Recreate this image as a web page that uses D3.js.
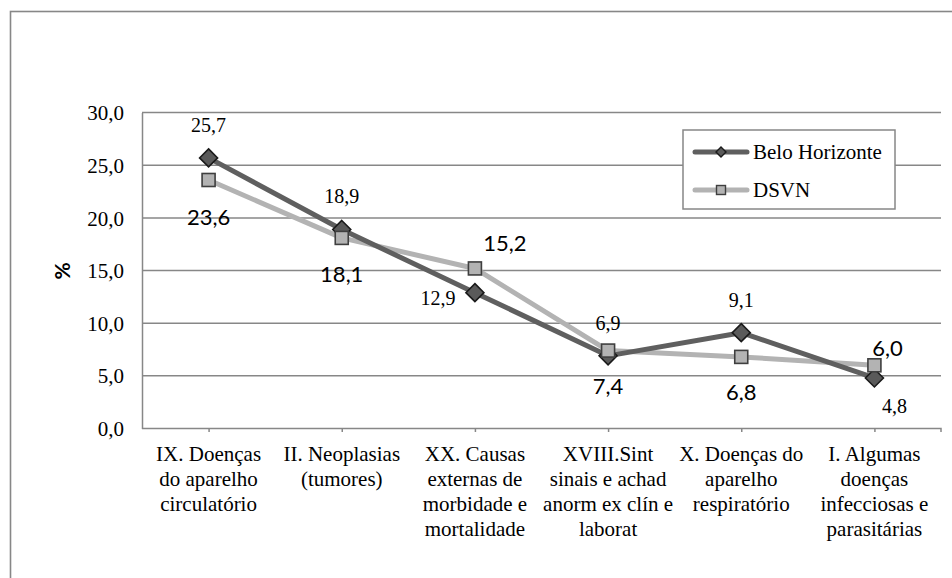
<!DOCTYPE html>
<html>
<head>
<meta charset="utf-8">
<script src="https://cdn.jsdelivr.net/npm/d3@7"></script>
<style>
  html, body { margin: 0; padding: 0; background: #fff; }
  svg { display: block; }
</style>
</head>
<body>
<svg id="chart" width="952" height="578"></svg>
<script>
// Causes of death by ICD chapter (%), Belo Horizonte vs DSVN
const categories = [
  ["IX. Doenças", "do aparelho", "circulatório"],
  ["II. Neoplasias", "(tumores)"],
  ["XX. Causas", "externas de", "morbidade e", "mortalidade"],
  ["XVIII.Sint", "sinais e achad", "anorm ex clín e", "laborat"],
  ["X. Doenças do", "aparelho", "respiratório"],
  ["I. Algumas", "doenças", "infecciosas e", "parasitárias"]
];
const belo = [25.7, 18.9, 12.9, 6.9, 9.1, 4.8];
const dsvn = [23.6, 18.1, 15.2, 7.4, 6.8, 6.0];
const yTicks = [0, 5, 10, 15, 20, 25, 30];
const seriesNames = ["Belo Horizonte", "DSVN"];

const serif = "'Liberation Serif', 'Times New Roman', serif";
const sans = "Lato, 'Open Sans', sans-serif";
const gridColor = "#878787";

const locale = d3.formatLocale({ decimal: ",", thousands: ".", grouping: [3], currency: ["", ""] });
const fmt = locale.format(".1f");

const svg = d3.select("#chart");

// outer chart frame
svg.append("rect")
  .attr("x", 10.5).attr("y", 11.5)
  .attr("width", 960).attr("height", 600)
  .attr("fill", "none").attr("stroke", gridColor).attr("stroke-width", 1.6);

const x = d3.scalePoint()
  .domain(d3.range(categories.length))
  .range([142, 941])
  .padding(0.5);

const y = d3.scaleLinear().domain([0, 30]).range([428.5, 112.6]);

// horizontal gridlines
svg.append("g").selectAll("line")
  .data(yTicks.filter(d => d > 0))
  .join("line")
  .attr("x1", 142).attr("x2", 941)
  .attr("y1", d => y(d)).attr("y2", d => y(d))
  .attr("stroke", gridColor).attr("stroke-width", 1.5);

// y axis
const yAxis = svg.append("g")
  .attr("transform", "translate(142,0)")
  .call(d3.axisLeft(y).tickValues(yTicks).tickFormat(fmt).tickSize(0).tickPadding(18));
yAxis.select(".domain").attr("stroke", gridColor).attr("stroke-width", 1.5);
yAxis.selectAll("text")
  .attr("font-family", serif).attr("font-size", 21).attr("fill", "#000")
  .attr("dy", "0.34em");

// x axis
const xAxis = svg.append("g")
  .attr("transform", `translate(0,${y(0)})`)
  .call(d3.axisBottom(x).tickSize(3.5).tickFormat(""));
xAxis.select(".domain").attr("stroke", gridColor).attr("stroke-width", 1.5)
  .attr("d", `M142,0V0H941V3.5`);
xAxis.selectAll(".tick line").attr("stroke", gridColor).attr("stroke-width", 1.5);

// category labels (multi-line)
const catG = svg.append("g");
categories.forEach((lines, i) => {
  const t = catG.append("text")
    .attr("x", x(i)).attr("y", 460.5)
    .attr("text-anchor", "middle")
    .attr("font-family", serif).attr("font-size", 21).attr("fill", "#000");
  lines.forEach((ln, j) => {
    t.append("tspan").attr("x", x(i)).attr("dy", j === 0 ? 0 : 25).text(ln);
  });
});

// y axis title
svg.append("text")
  .attr("transform", "translate(70,271) rotate(-90)")
  .attr("text-anchor", "middle")
  .attr("font-family", sans).attr("font-weight", "bold").attr("font-size", 21)
  .text("%");

const line = d3.line().x((d, i) => x(i)).y(d => y(d));

// DSVN line
svg.append("path").datum(dsvn)
  .attr("d", line).attr("fill", "none")
  .attr("stroke", "#b3b3b3").attr("stroke-width", 5).attr("stroke-linejoin", "round");

// Belo Horizonte line
svg.append("path").datum(belo)
  .attr("d", line).attr("fill", "none")
  .attr("stroke", "#5f5f5f").attr("stroke-width", 5).attr("stroke-linejoin", "round");

// Belo Horizonte markers (diamonds)
const diamond = r => `M0,${-r}L${r},0L0,${r}L${-r},0Z`;
svg.append("g").selectAll("path")
  .data(belo).join("path")
  .attr("transform", (d, i) => `translate(${x(i)},${y(d)})`)
  .attr("d", diamond(9))
  .attr("fill", "#5a5a5a").attr("stroke", "#1a1a1a").attr("stroke-width", 1.6);

// DSVN markers (squares)
svg.append("g").selectAll("rect")
  .data(dsvn).join("rect")
  .attr("x", (d, i) => x(i) - 6.5).attr("y", d => y(d) - 6.5)
  .attr("width", 13).attr("height", 13)
  .attr("fill", "#b3b3b3").attr("stroke", "#3f3f3f").attr("stroke-width", 1.6);

// value labels, Belo Horizonte (offsets from point)
const beloOff = [[0, -26], [0, -26], [-37, 12], [0, -26], [0, -26], [20, 35]];
svg.append("g").selectAll("text")
  .data(belo).join("text")
  .attr("x", (d, i) => x(i) + beloOff[i][0])
  .attr("y", (d, i) => y(d) + beloOff[i][1])
  .attr("text-anchor", "middle")
  .attr("font-family", serif).attr("font-size", 20).attr("fill", "#000")
  .text(d => fmt(d));

// value labels, DSVN
const dsvnOff = [[0, 45], [0, 44], [30, -17], [0, 43], [0, 43], [13, -9]];
svg.append("g").selectAll("text")
  .data(dsvn).join("text")
  .attr("x", (d, i) => x(i) + dsvnOff[i][0])
  .attr("y", (d, i) => y(d) + dsvnOff[i][1])
  .attr("text-anchor", "middle")
  .attr("font-family", sans).attr("font-size", 22).attr("fill", "#000")
  .text(d => fmt(d));

// legend
const lg = svg.append("g");
lg.append("rect")
  .attr("x", 683).attr("y", 130).attr("width", 212).attr("height", 79)
  .attr("fill", "#fff").attr("stroke", gridColor).attr("stroke-width", 1.5);
const legendRows = [
  { name: seriesNames[0], color: "#5f5f5f", y: 152, marker: "diamond" },
  { name: seriesNames[1], color: "#b3b3b3", y: 190, marker: "square" }
];
legendRows.forEach(r => {
  lg.append("line")
    .attr("x1", 695).attr("x2", 747).attr("y1", r.y).attr("y2", r.y)
    .attr("stroke", r.color).attr("stroke-width", 5).attr("stroke-linecap", "round");
  if (r.marker === "diamond") {
    lg.append("path").attr("transform", `translate(721,${r.y})`)
      .attr("d", diamond(5))
      .attr("fill", "#5a5a5a").attr("stroke", "#1a1a1a").attr("stroke-width", 1.4);
  } else {
    lg.append("rect").attr("x", 716.5).attr("y", r.y - 4.5).attr("width", 9).attr("height", 9)
      .attr("fill", "#b3b3b3").attr("stroke", "#3f3f3f").attr("stroke-width", 1.4);
  }
  lg.append("text")
    .attr("x", 753).attr("y", r.y).attr("dy", "0.33em")
    .attr("font-family", serif).attr("font-size", 21).attr("fill", "#000")
    .text(r.name);
});
</script>
</body>
</html>
